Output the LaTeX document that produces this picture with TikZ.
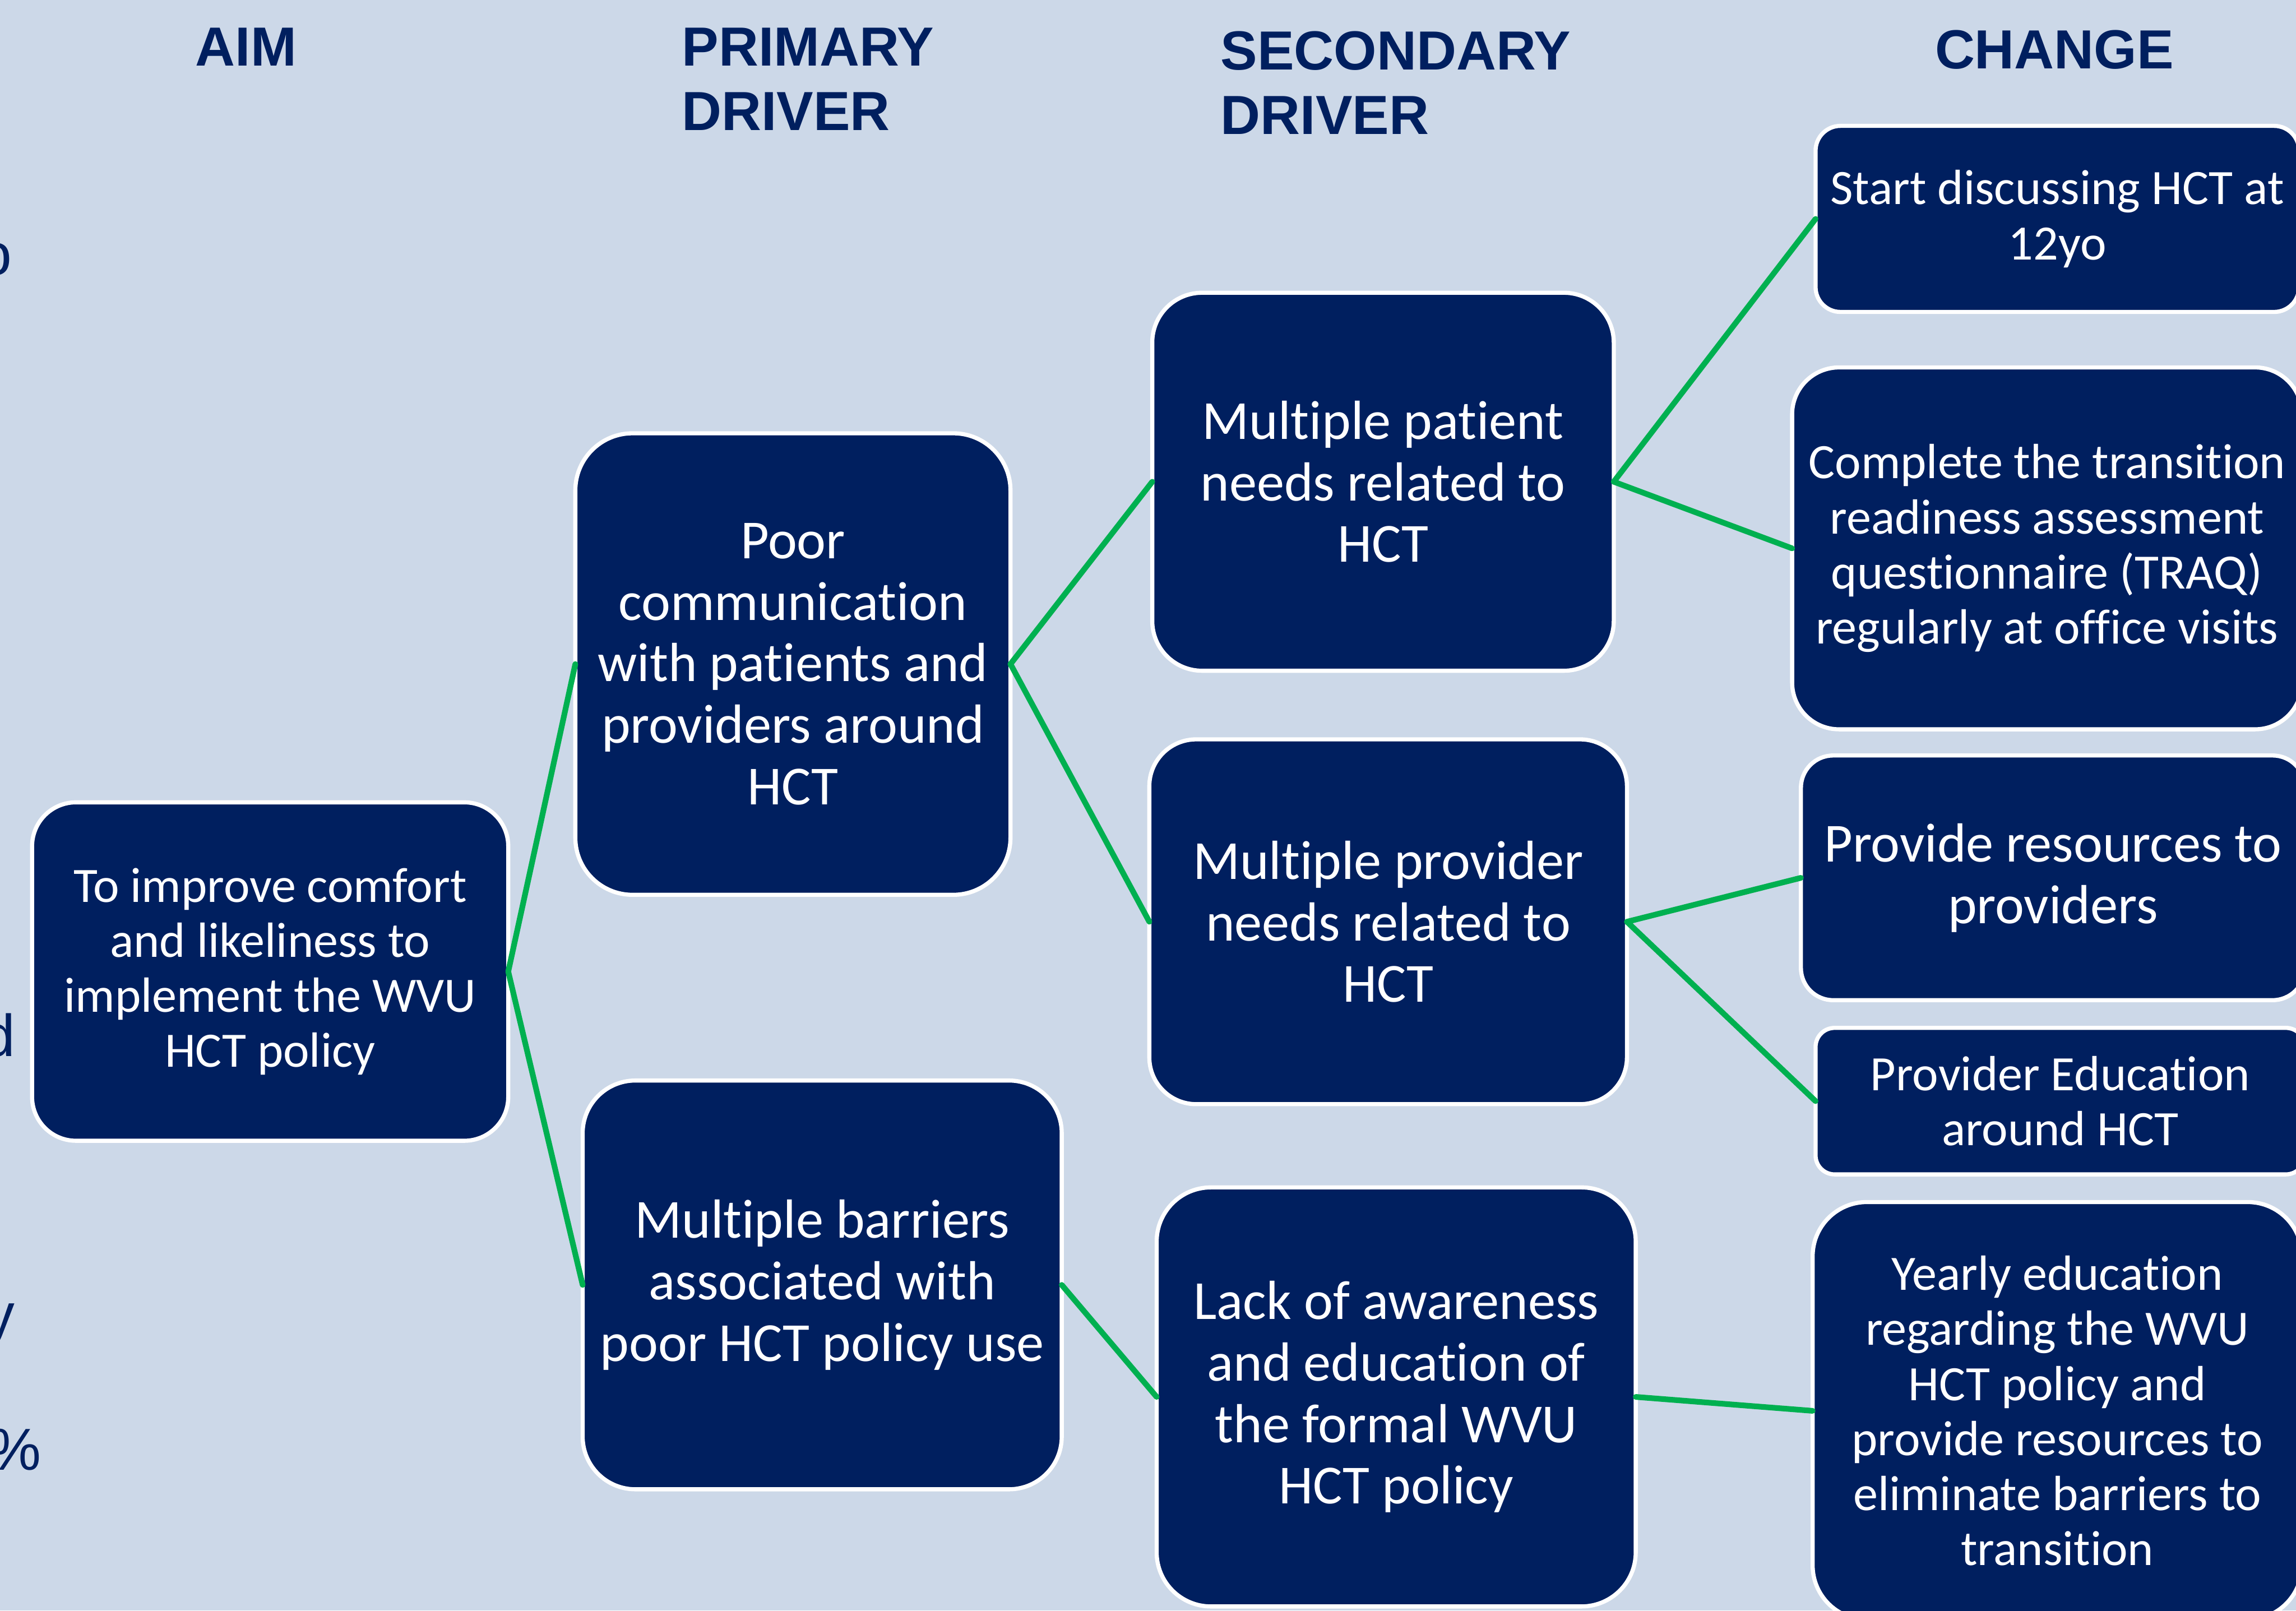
\documentclass[tikz,border=0pt]{standalone}
\usepackage{fontspec}
\setmainfont{Carlito}[Ligatures=NoCommon]
\newfontfamily\headfont{Liberation Sans}
\definecolor{bgblue}{HTML}{CCD8E8}
\definecolor{navy}{HTML}{001F5F}
\definecolor{linkgreen}{HTML}{00B050}

\begin{document}
\begin{tikzpicture}[x=0.01cm, y=-0.01cm, line join=round, line cap=round,
    box/.style={draw=white, line width=0.8pt, fill=navy, text=white, align=center, inner sep=0pt, outer sep=0pt},
    bigtxt/.style={font=\fontsize{10.7}{11.95}\selectfont},
    smalltxt/.style={font=\fontsize{9.6}{10.7}\selectfont},
    hdr/.style={font=\headfont\bfseries\fontsize{10.7}{12.5}\selectfont, text=navy, inner sep=0pt},
    frag/.style={font=\headfont\fontsize{11.5}{13}\selectfont, text=navy, inner sep=0pt},
    link/.style={draw=linkgreen, line width=1.1pt}]

    % Фон
    \fill[bgblue] (0,0) rectangle (1568,1100);
    \useasboundingbox (0,0) rectangle (1568,1100);

    % Заголовки стовпців
    \node[hdr] (haim) at (168,32) {AIM};
    \node[hdr, anchor=west, align=left] (hprim) at (465,54) {PRIMARY\\DRIVER};
    \node[hdr, anchor=west, align=left] (hsec) at (833,56.5) {SECONDARY\\DRIVER};
    \node[hdr] (hchg) at (1403,34) {CHANGE};

    % Обрізаний текст біля лівого краю
    \node[frag] (f1) at (-3,177) {o};
    \node[frag] (f2) at (-1,707) {d};
    \node[frag] (f3) at (0,905) {y};
    \node[frag] (f4) at (10,990) {\%};

    % Мета
    \node[box, smalltxt, rounded corners=0.30cm, minimum width=3.25cm, minimum height=2.31cm] (aim) at (184.5,663.5)
        {To improve comfort\\and likeliness to\\implement the WVU\\HCT policy};

    % Первинні чинники
    \node[box, bigtxt, rounded corners=0.39cm, minimum width=2.97cm, minimum height=3.15cm] (poor) at (541.5,453.5)
        {Poor\\communication\\with patients and\\providers around\\HCT};
    \node[box, bigtxt, rounded corners=0.36cm, minimum width=3.27cm, minimum height=2.79cm] (barr) at (561.5,877.5)
        {Multiple barriers\\associated with\\poor HCT policy use};

    % Вторинні чинники
    \node[box, bigtxt, rounded corners=0.34cm, minimum width=3.15cm, minimum height=2.58cm] (patient) at (944.5,329)
        {Multiple patient\\needs related to\\HCT};
    \node[box, bigtxt, rounded corners=0.32cm, minimum width=3.26cm, minimum height=2.49cm] (provider) at (948,629.5)
        {Multiple provider\\needs related to\\HCT};
    \node[box, bigtxt, rounded corners=0.37cm, minimum width=3.27cm, minimum height=2.86cm] (lack) at (953.5,954)
        {Lack of awareness\\and education of\\the formal WVU\\HCT policy};

    % Зміни
    \node[box, smalltxt, rounded corners=0.17cm, minimum width=3.30cm, minimum height=1.27cm] (start) at (1405,149.5)
        {Start discussing HCT at\\12yo};
    \node[box, smalltxt, rounded corners=0.32cm, minimum width=3.48cm, minimum height=2.47cm] (traq) at (1398,374.5)
        {Complete the transition\\readiness assessment\\questionnaire (TRAQ)\\regularly at office visits};
    \node[box, bigtxt, rounded corners=0.22cm, minimum width=3.44cm, minimum height=1.67cm] (resrc) at (1402,599.5)
        {Provide resources to\\providers};
    \node[box, smalltxt, rounded corners=0.13cm, minimum width=3.34cm, minimum height=1.00cm] (pedu) at (1407,752)
        {Provider Education\\around HCT};
    \node[box, smalltxt, rounded corners=0.37cm, minimum width=3.34cm, minimum height=2.85cm] (yearly) at (1405,963.5)
        {Yearly education\\regarding the WVU\\HCT policy and\\provide resources to\\eliminate barriers to\\transition};

    % Зв'язки
    \draw[link] (aim.east) -- (poor.west);
    \draw[link] (aim.east) -- (barr.west);
    \draw[link] (poor.east) -- (patient.west);
    \draw[link] (poor.east) -- (provider.west);
    \draw[link] (barr.east) -- (lack.west);
    \draw[link] (patient.east) -- (start.west);
    \draw[link] (patient.east) -- (traq.west);
    \draw[link] (provider.east) -- (resrc.west);
    \draw[link] (provider.east) -- (pedu.west);
    \draw[link] (lack.east) -- (yearly.west);
\end{tikzpicture}
\end{document}
